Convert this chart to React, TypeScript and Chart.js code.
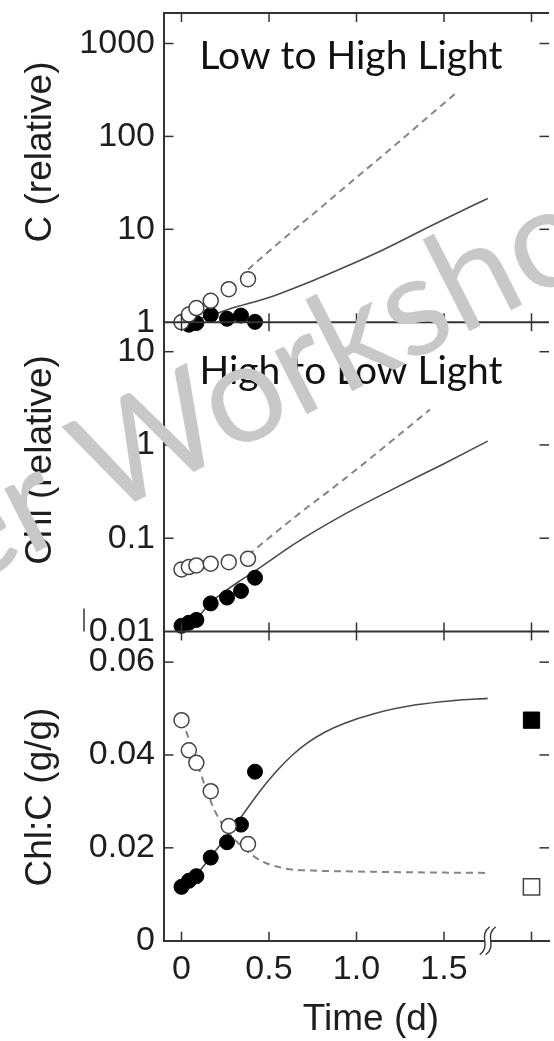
import React, { useEffect, useRef } from 'react';
import { Chart, registerables } from 'chart.js';

Chart.register(...registerables);

// ---------------- data ----------------
const filledTime = [0, 0.042, 0.085, 0.167, 0.26, 0.34, 0.42];
const openTime = [0, 0.042, 0.085, 0.167, 0.27, 0.38];

// Panel 1: C (relative)
const cFilled = [1.0, 0.94, 0.98, 1.2, 1.09, 1.18, 1.01];
const cOpen = [1.0, 1.21, 1.42, 1.7, 2.27, 2.91];
const cSolidTime = [0, 0.15, 0.27, 0.5, 0.75, 0.93, 1.15, 1.45, 1.75];
const cSolid = [1.0, 1.15, 1.38, 1.85, 2.8, 3.9, 6.0, 11.5, 21.5];
const cDashTime = [0.38, 0.47, 0.92, 1.2, 1.57];
const cDash = [3.7, 5.2, 27, 75, 295];

// Panel 2: Chl (relative)
const chlFilled = [0.0115, 0.0124, 0.0133, 0.02, 0.0231, 0.0272, 0.0377];
const chlOpen = [0.0463, 0.049, 0.0511, 0.0532, 0.0554, 0.0601];
const chlSolidTime = [0, 0.085, 0.17, 0.26, 0.34, 0.42, 0.65, 0.93, 1.2, 1.5, 1.75];
const chlSolid = [0.0115, 0.0138, 0.0207, 0.028, 0.0355, 0.0445, 0.088, 0.18, 0.33, 0.63, 1.1];
const chlDashTime = [0.38, 0.65, 0.93, 1.2, 1.42];
const chlDash = [0.066, 0.17, 0.43, 1.1, 2.4];

// Panel 3: Chl:C (g/g)
const ratioFilled = [0.0116, 0.0129, 0.0139, 0.0179, 0.0212, 0.025, 0.0364];
const ratioOpen = [0.0475, 0.041, 0.0383, 0.0322, 0.0247, 0.0208];
const ratioSolidTime = [0, 0.085, 0.17, 0.26, 0.34, 0.45, 0.54, 0.634, 0.72, 0.818, 0.929, 1.1, 1.34, 1.55, 1.75];
const ratioSolid = [0.0115, 0.0142, 0.0182, 0.0225, 0.0266, 0.0323, 0.0364, 0.04, 0.0426, 0.0449, 0.0468, 0.0489, 0.0508, 0.0517, 0.0522];
const ratioDashTime = [0, 0.045, 0.1, 0.19, 0.26, 0.36, 0.45, 0.6, 0.75, 1.0, 1.4, 1.75];
const ratioDash = [0.0475, 0.0432, 0.037, 0.028, 0.0237, 0.0198, 0.0173, 0.0155, 0.0151, 0.0149, 0.0147, 0.0146];
const steadyTime = [2.0];
const steadyFilled = [0.0475];
const steadyOpen = [0.0116];

// ticks
const timeTicks = [0, 0.5, 1, 1.5, 2];
const timeTickLabels = ['0', '0.5', '1.0', '1.5', ''];
const cTicks = [1, 10, 100, 1000];
const cTickLabels = ['1', '10', '100', '1000'];
const chlTicks = [0.01, 0.1, 1, 10];
const chlTickLabels = ['0.01', '0.1', '1', '10'];
const ratioTicks = [0, 0.02, 0.04, 0.06];
const ratioTickLabels = ['0', '0.02', '0.04', '0.06'];

const yTitles = ['C (relative)', 'Chl (relative)', 'Chl:C (g/g)'];
const xTitle = 'Time (d)';
const panelNotes = ['Low to High Light', 'High to Low Light'];
const watermark = 'er Workshop';

// ---------------- helpers ----------------
const pts = (xs: number[], ys: number[]) => xs.map((x, i) => ({ x, y: ys[i] }));
const AXIS = '#333';
const TEXT = '#1e1e1e';
const tickFont = { family: '"Liberation Sans", Arial, sans-serif', size: 34 };

function openSet(data: any, yAxisID: string, style = 'circle', r = 7.5) {
  return {
    data, yAxisID, xAxisID: 'x', order: 0, clip: false,
    showLine: false, pointStyle: style, pointRadius: r,
    backgroundColor: '#ffffff', borderColor: '#444', pointBorderWidth: 1.5, borderWidth: 1.5,
  };
}
function filledSet(data: any, yAxisID: string, style = 'circle', r = 7.5) {
  return {
    data, yAxisID, xAxisID: 'x', order: 1, clip: false,
    showLine: false, pointStyle: style, pointRadius: r,
    backgroundColor: '#000', borderColor: '#000', pointBorderWidth: 1, borderWidth: 1,
  };
}
function lineSet(data: any, yAxisID: string, dashed: boolean) {
  return {
    data, yAxisID, xAxisID: 'x', order: 2, clip: false,
    showLine: true, pointRadius: 0, fill: false,
    cubicInterpolationMode: 'monotone',
    borderColor: dashed ? '#858585' : '#4a4a4a',
    borderWidth: dashed ? 2 : 1.6,
    borderDash: dashed ? [7, 5] : [],
  };
}

function yScale(type: string, min: number, max: number, ticks: number[], labels: string[], weight: number) {
  return {
    type, position: 'left', stack: 'panels', stackWeight: 1, weight,
    min, max,
    afterBuildTicks: (s: any) => { s.ticks = ticks.map((v) => ({ value: v })); },
    afterFit: (s: any) => { s.width = 164; s.paddingTop = 0; s.paddingBottom = 0; },
    ticks: {
      autoSkip: false, padding: 9, color: TEXT, font: tickFont,
      callback: (_v: any, i: number) => labels[i],
    },
    grid: { display: false, drawTicks: false },
    border: { display: true, color: AXIS, width: 2 },
  };
}

const decoPlugin = {
  id: 'deco',
  afterDraw(chart: any) {
    const { ctx, chartArea } = chart;
    const { left, right, bottom } = chartArea;
    const sx = chart.scales.x;
    const ys = [chart.scales.y1, chart.scales.y2, chart.scales.y3];
    const seg = (x1: number, y1: number, x2: number, y2: number) => {
      ctx.beginPath(); ctx.moveTo(x1, y1); ctx.lineTo(x2, y2); ctx.stroke();
    };
    ctx.save();
    ctx.strokeStyle = AXIS;
    ctx.lineWidth = 2;
    ys.forEach((s) => seg(left, s.top, right, s.top));
    ctx.lineWidth = 1.5;
    timeTicks.forEach((v) => {
      const px = sx.getPixelForValue(v);
      seg(px, ys[0].top, px, ys[0].top + 9);
      seg(px, ys[1].top - 9, px, ys[1].top + 9);
      seg(px, ys[2].top - 9, px, ys[2].top + 9);
      seg(px, bottom - 9, px, bottom);
    });
    const tickSets = [cTicks, chlTicks, ratioTicks];
    ys.forEach((s, k) => {
      tickSets[k].forEach((v) => {
        const py = s.getPixelForValue(v);
        if (Math.abs(py - s.bottom) < 1) return;
        seg(left, py, left + 9.5, py);
        seg(right - 9.5, py, right, py);
      });
    });

    // small stray bar before the 0.01 label
    ctx.lineWidth = 1.5;
    const p01 = ys[1].getPixelForValue(0.01);
    seg(84, p01 - 23, 84, p01);

    // axis break mark
    const bx = sx.getPixelForValue(1.75);
    const squiggle = (o: number) => {
      ctx.beginPath();
      ctx.moveTo(bx + o - 5, bottom + 14);
      ctx.bezierCurveTo(bx + o + 7, bottom + 5, bx + o - 7, bottom - 5, bx + o + 5, bottom - 14);
    };
    ctx.strokeStyle = '#fff'; ctx.lineWidth = 6;
    squiggle(0); ctx.stroke();
    ctx.strokeStyle = AXIS; ctx.lineWidth = 1.4;
    squiggle(-3); ctx.stroke();
    squiggle(3); ctx.stroke();

    // panel notes
    ctx.fillStyle = '#111';
    ctx.font = '39px Lato, "Open Sans", sans-serif';
    ctx.textAlign = 'left';
    ctx.textBaseline = 'alphabetic';
    ctx.fillText(panelNotes[0], 199.5, 68.5);
    ctx.fillText(panelNotes[1], 199.5, 384);

    // axis titles
    ctx.fillStyle = TEXT;
    ctx.font = '37px "Liberation Sans", Arial, sans-serif';
    ctx.textAlign = 'center';
    ctx.textBaseline = 'middle';
    const titleCenters = [152, 460, 797];
    yTitles.forEach((t, k) => {
      ctx.save();
      ctx.translate(41, titleCenters[k]);
      ctx.rotate(-Math.PI / 2);
      ctx.fillText(t, 0, 0);
      ctx.restore();
    });
    ctx.fillText(xTitle, 371, 1020);

    // watermark
    ctx.save();
    ctx.fillStyle = '#c8c8c8';
    ctx.font = '140px Lato, "Open Sans", sans-serif';
    ctx.textAlign = 'left';
    ctx.textBaseline = 'alphabetic';
    ctx.translate(-38, 590);
    ctx.rotate((-27 * Math.PI) / 180);
    ctx.fillText(watermark, 0, 0);
    ctx.restore();

    ctx.restore();
  },
};

export default function App() {
  const ref = useRef<HTMLCanvasElement | null>(null);
  useEffect(() => {
    if (!ref.current) return;
    const chart = new Chart(ref.current, {
      type: 'scatter',
      data: {
        datasets: [
          openSet(pts(openTime, cOpen), 'y1'),
          openSet(pts(openTime, chlOpen), 'y2'),
          openSet(pts(openTime, ratioOpen), 'y3'),
          openSet(pts(steadyTime, steadyOpen), 'y3', 'rect', 11.5),
          filledSet(pts(filledTime, cFilled), 'y1'),
          filledSet(pts(filledTime, chlFilled), 'y2'),
          filledSet(pts(filledTime, ratioFilled), 'y3'),
          filledSet(pts(steadyTime, steadyFilled), 'y3', 'rect', 11.5),
          lineSet(pts(cSolidTime, cSolid), 'y1', false),
          lineSet(pts(cDashTime, cDash), 'y1', true),
          lineSet(pts(chlSolidTime, chlSolid), 'y2', false),
          lineSet(pts(chlDashTime, chlDash), 'y2', true),
          lineSet(pts(ratioSolidTime, ratioSolid), 'y3', false),
          lineSet(pts(ratioDashTime, ratioDash), 'y3', true),
        ] as any,
      },
      options: {
        animation: false,
        responsive: false,
        devicePixelRatio: 1,
        events: [],
        layout: { padding: { top: 8.3, left: 0, right: 0, bottom: 0 } },
        plugins: { legend: { display: false }, tooltip: { enabled: false }, title: { display: false } },
        scales: {
          x: {
            type: 'linear', position: 'bottom', min: -0.1, max: 2.1,
            afterBuildTicks: (s: any) => { s.ticks = timeTicks.map((v) => ({ value: v })); },
            afterFit: (s: any) => { s.height = 100.3; s.paddingLeft = 0; s.paddingRight = 0; },
            ticks: {
              autoSkip: false, maxRotation: 0, padding: 9, color: TEXT, font: tickFont,
              callback: (_v: any, i: number) => timeTickLabels[i],
            },
            grid: { display: false, drawTicks: false },
            border: { display: true, color: AXIS, width: 2 },
          },
          y1: yScale('logarithmic', 1, 2130, cTicks, cTickLabels, 3),
          y2: yScale('logarithmic', 0.01, 20.7, chlTicks, chlTickLabels, 2),
          y3: yScale('linear', 0, 0.0666, ratioTicks, ratioTickLabels, 1),
        } as any,
      },
      plugins: [decoPlugin],
    });
    return () => chart.destroy();
  }, []);

  return (
    <div style={{ position: 'absolute', left: 0, top: 0, width: 554, height: 1041, overflow: 'hidden', background: '#fff' }}>
      <canvas ref={ref} width={562} height={1041} style={{ display: 'block' }} />
    </div>
  );
}
